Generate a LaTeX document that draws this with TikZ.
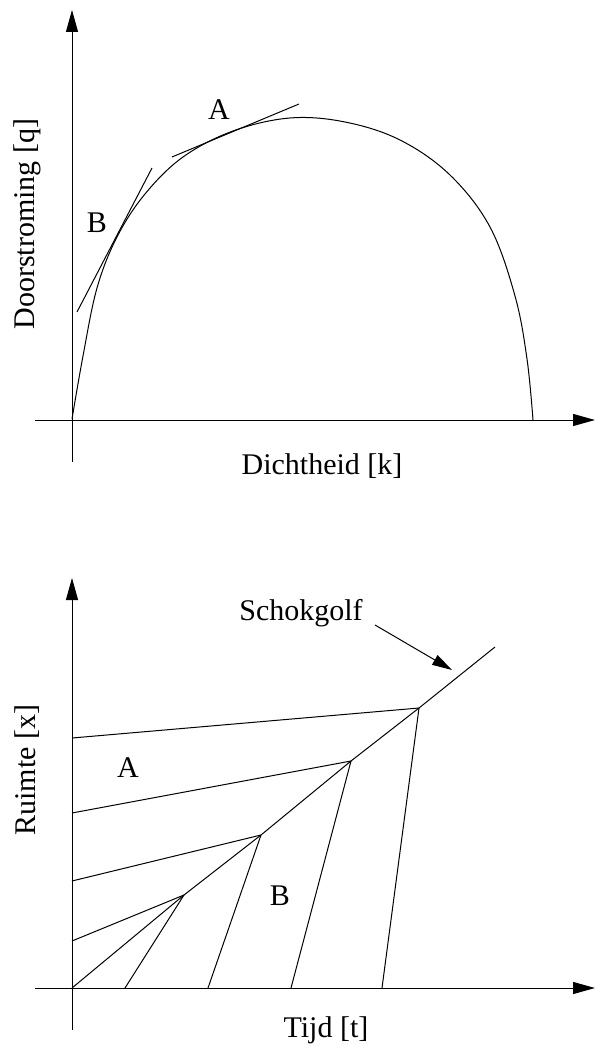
\documentclass[tikz,border=0pt]{standalone}
\usepackage{fontspec}
\setmainfont{Liberation Serif}
\usetikzlibrary{arrows.meta}

\begin{document}
\begin{tikzpicture}[x=1pt,y=-1pt,line width=1pt,
      axis/.style={-{Triangle[length=22pt,width=12pt]}},
      lbl/.style={inner sep=0pt,font=\fontsize{30}{35}\selectfont}]
    \useasboundingbox (0,0) rectangle (595,1048);

    % flow--density diagram
    \coordinate (qy0) at (72,462);
    \coordinate (qy1) at (72,10);
    \coordinate (qx0) at (35,420);
    \coordinate (qx1) at (595,420);
    \draw[axis] (qy0) -- (qy1);
    \draw[axis] (qx0) -- (qx1);

    \draw plot[smooth,tension=0.6] coordinates {
      (72,419) (83,356) (97,288) (117,237) (145,194) (183,157) (233,131)
      (290,118) (345,122) (400,140) (450,175) (490,227) (515,296) (527,359)
      (533,420)};

    \coordinate (tb0) at (77,312);
    \coordinate (tb1) at (152,168);
    \coordinate (ta0) at (172,157);
    \coordinate (ta1) at (299,104);
    \draw (tb0) -- (tb1);
    \draw (ta0) -- (ta1);

    \node[lbl] (labA) at (219,110) {A};
    \node[lbl] (labB) at (97,223) {B};
    \node[lbl,rotate=90] (qlab) at (27,224) {Doorstroming [q]};
    \node[lbl] (klab) at (322,466) {Dichtheid [k]};

    % shock wave in the time--space plane
    \coordinate (xy0) at (72,1030);
    \coordinate (xy1) at (72,578);
    \coordinate (xx0) at (35,988);
    \coordinate (xx1) at (595,988);
    \draw[axis] (xy0) -- (xy1);
    \draw[axis] (xx0) -- (xx1);

    \coordinate (s0) at (72,988);
    \coordinate (s1) at (184,895);
    \coordinate (s2) at (261,835);
    \coordinate (s3) at (351,761);
    \coordinate (s4) at (419,708);
    \coordinate (s5) at (495,647);
    \draw (s0) -- (s1) -- (s2) -- (s3) -- (s4) -- (s5);

    \foreach \i/\yl/\xb in {1/941/125,2/881/208,3/813/291,4/738/382} {
      \coordinate (l\i) at (72,\yl);
      \coordinate (b\i) at (\xb,988);
      \draw (l\i) -- (s\i);
      \draw (b\i) -- (s\i);
    }

    \node[lbl] (regA) at (128,768) {A};
    \node[lbl] (regB) at (280,896) {B};
    \node[lbl] (shock) at (301,613) {Schokgolf};
    \coordinate (sh0) at (375,625);
    \coordinate (shtip) at (452,670);
    \draw[-{Triangle[length=20pt,width=11pt]}] (sh0) -- (shtip);

    \node[lbl,rotate=90] (xlab) at (27,770) {Ruimte [x]};
    \node[lbl] (tlab) at (326,1030) {Tijd [t]};
  \end{tikzpicture}
\end{document}
